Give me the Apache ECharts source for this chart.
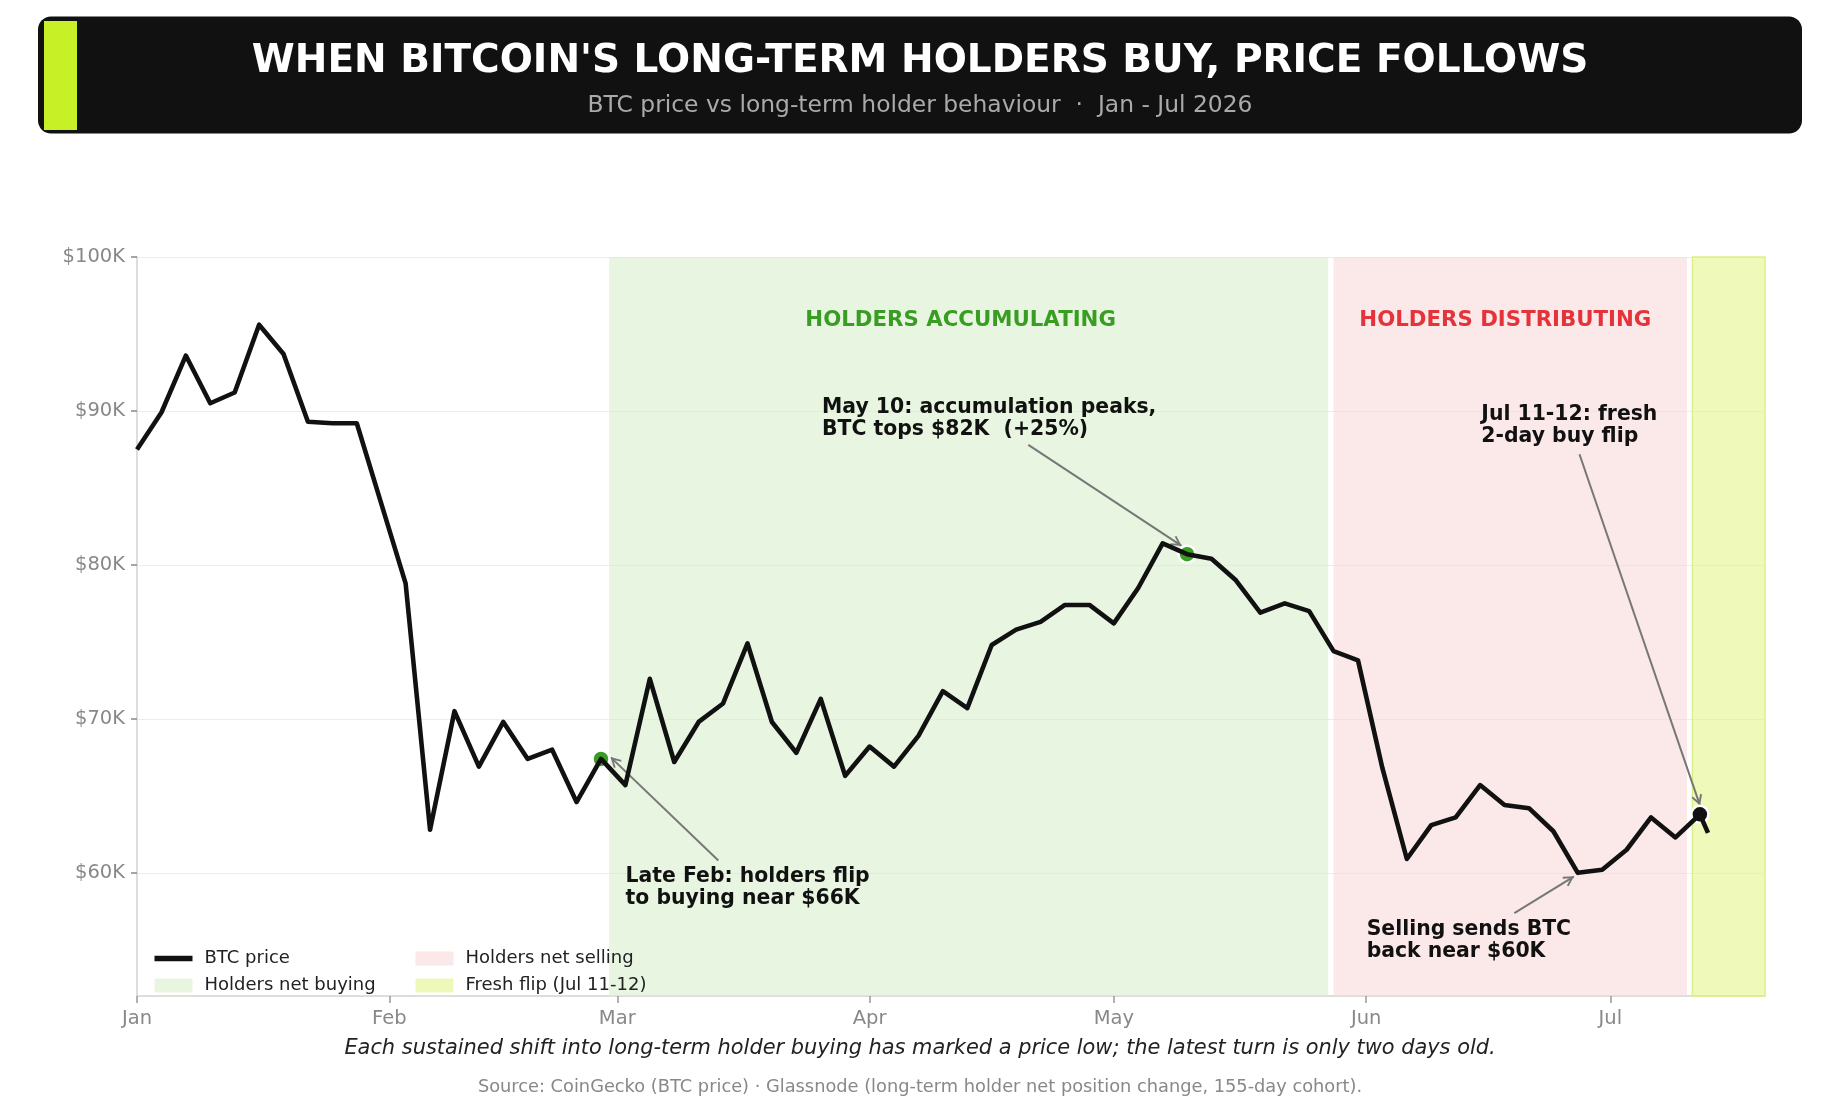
<!DOCTYPE html>
<html><head><meta charset="utf-8">
<script src="https://cdn.jsdelivr.net/npm/echarts@6/dist/echarts.min.js"></script>
<style>html,body{margin:0;padding:0;background:#fff}#c{width:1840px;height:1120px}</style>
</head><body><div id="c"></div>
<script>
// ---------- data ----------
const dates = [
 '2026-01-01','2026-01-04','2026-01-07','2026-01-10','2026-01-13','2026-01-16','2026-01-19','2026-01-22','2026-01-25','2026-01-28',
 '2026-01-31','2026-02-03','2026-02-06','2026-02-09','2026-02-12','2026-02-15','2026-02-18','2026-02-21','2026-02-24','2026-02-27',
 '2026-03-02','2026-03-05','2026-03-08','2026-03-11','2026-03-14','2026-03-17','2026-03-20','2026-03-23','2026-03-26','2026-03-29',
 '2026-04-01','2026-04-04','2026-04-07','2026-04-10','2026-04-13','2026-04-16','2026-04-19','2026-04-22','2026-04-25','2026-04-28',
 '2026-05-01','2026-05-04','2026-05-07','2026-05-10','2026-05-13','2026-05-16','2026-05-19','2026-05-22','2026-05-25','2026-05-28',
 '2026-05-31','2026-06-03','2026-06-06','2026-06-09','2026-06-12','2026-06-15','2026-06-18','2026-06-21','2026-06-24','2026-06-27',
 '2026-06-30','2026-07-03','2026-07-06','2026-07-09','2026-07-12','2026-07-13'
];
const btcPrice = [
 87500, 89900, 93600, 90500, 91200, 95600, 93700, 89300, 89200, 89200,
 84000, 78800, 62800, 70500, 66900, 69800, 67400, 68000, 64600, 67400,
 65700, 72600, 67200, 69800, 71000, 74900, 69800, 67800, 71300, 66300,
 68200, 66900, 68900, 71800, 70700, 74800, 75800, 76300, 77400, 77400,
 76200, 78500, 81400, 80700, 80400, 79000, 76900, 77500, 77000, 74400,
 73800, 66800, 60900, 63100, 63600, 65700, 64400, 64200, 62700, 60000,
 60200, 61500, 63600, 62300, 63800, 62600
];
const monthLabels = ['Jan','Feb','Mar','Apr','May','Jun','Jul','Aug','Sep','Oct','Nov','Dec'];
const priceTicks = [60000, 70000, 80000, 90000, 100000];
const regionNames = ['Holders net buying', 'Holders net selling', 'Fresh flip (Jul 11-12)'];
const regionStarts = ['2026-02-28', '2026-05-28', '2026-07-11 02:00'];
const regionEnds = ['2026-05-27 08:00', '2026-07-10 10:00', '2026-07-20'];
const regionLabels = ['HOLDERS ACCUMULATING', 'HOLDERS DISTRIBUTING', ''];
const highlightDates = ['2026-02-27', '2026-05-10', '2026-07-12'];
const noteTexts = [
 'Late Feb: holders flip\nto buying near $66K',
 'May 10: accumulation peaks,\nBTC tops $82K  (+25%)',
 'Jul 11-12: fresh\n2-day buy flip',
 'Selling sends BTC\nback near $60K'
];
const noteAt = [['2026-03-02 02:00', 60450], ['2026-03-26 05:00', 90880], ['2026-06-15 05:00', 90420], ['2026-06-01 03:00', 56990]];
const arrowFrom = [['2026-03-13 10:00', 60800], ['2026-04-20 12:00', 87800], ['2026-06-27 05:00', 87190], ['2026-06-19 05:00', 57380]];
const arrowTo = [['2026-02-28 05:00', 67500], ['2026-05-09 07:00', 81250], ['2026-07-12', 64400], ['2026-06-26 12:00', 59760]];

// ---------- styles ----------
const FONT = 'DejaVu Sans';
const DAY = 86400000;
const regionFill = ['rgba(217,238,205,0.6)', 'rgba(248,217,217,0.6)', 'rgba(227,245,140,0.6)'];
const regionSwatch = ['#e8f5e1', '#fbe8e8', '#eef9b9'];
const regionBorder = [null, null, '#dcef86'];
const regionLabelColor = ['#3a9d23', '#e5333b', '#000'];
const regionLabelOffset = [[-8, 0], [-5, 0], [0, 0]];
const highlightColor = ['#3a9d23', '#3a9d23', '#111111'];
const chevron = 'path://M0,9 L5,0 L10,9 L8.6,10 L5,3.6 L1.4,10 Z';

const chart = echarts.init(document.getElementById('c'), null, {renderer: 'canvas'});

const regionSeries = regionNames.map((nm, i) => ({
  name: nm, type: 'line', data: [], silent: true,
  itemStyle: {color: regionSwatch[i]}, lineStyle: {color: regionSwatch[i]},
  markArea: {
    silent: true,
    itemStyle: {color: regionFill[i], borderColor: regionBorder[i] || 'transparent', borderWidth: regionBorder[i] ? 1.5 : 0},
    label: {show: !!regionLabels[i], position: 'insideTop', distance: 53, offset: regionLabelOffset[i],
      color: regionLabelColor[i], fontSize: 21.3, fontWeight: 'bold', fontFamily: FONT},
    data: [[{name: regionLabels[i], xAxis: regionStarts[i]}, {xAxis: regionEnds[i]}]]
  }
}));

const legendText = {color: '#222', fontSize: 18, fontFamily: FONT, padding: [0, 0, 0, 7]};

chart.setOption({
  animation: false,
  backgroundColor: '#ffffff',
  textStyle: {fontFamily: FONT},
  grid: {left: 137, right: 75, top: 257, bottom: 124, containLabel: false, outerBoundsMode: 'none'},
  xAxis: {
    type: 'time',
    min: '2026-01-01', max: '2026-07-20',
    splitNumber: 7, minInterval: 28 * DAY, maxInterval: 31 * DAY,
    axisLine: {show: true, lineStyle: {color: '#dddddd', width: 2}},
    axisTick: {show: true, length: 7, lineStyle: {color: '#999', width: 1.5}},
    axisLabel: {color: '#888', fontSize: 19.5, fontFamily: FONT, margin: 13, hideOverlap: false,
      showMinLabel: true, showMaxLabel: false, fontWeight: 'normal',
      formatter: (v) => monthLabels[new Date(v).getMonth()]},
    minorTick: {show: false},
    splitLine: {show: false}
  },
  yAxis: {
    type: 'value', min: 52000, max: 100000,
    axisLine: {show: true, lineStyle: {color: '#dddddd', width: 2}},
    axisTick: {show: true, customValues: priceTicks, length: 6, lineStyle: {color: '#888', width: 1.5}},
    axisLabel: {customValues: priceTicks, color: '#888', fontSize: 19.5, fontFamily: FONT, margin: 12,
      formatter: (v) => '$' + Math.round(v / 1000) + 'K'},
    splitLine: {show: true, lineStyle: {color: '#ececec', width: 1}}
  },
  legend: [
    {orient: 'vertical', left: 149.5, top: 944.5, itemWidth: 38, itemHeight: 14, itemGap: 9,
      textStyle: legendText, selectedMode: false,
      data: [{name: 'BTC price', icon: 'path://M0,0H40V6H0Z', itemStyle: {color: '#111'}},
             {name: regionNames[0], icon: 'rect', itemStyle: {color: regionSwatch[0]}}]},
    {orient: 'vertical', left: 410.5, top: 944.5, itemWidth: 38, itemHeight: 14, itemGap: 9,
      textStyle: legendText, selectedMode: false,
      data: [{name: regionNames[1], icon: 'rect', itemStyle: {color: regionSwatch[1]}},
             {name: regionNames[2], icon: 'rect', itemStyle: {color: regionSwatch[2]}}]}
  ],
  series: [
    ...regionSeries,
    {
      name: 'BTC price', type: 'line', symbol: 'none', z: 5,
      data: dates.map((d, i) => [d, btcPrice[i]]),
      lineStyle: {color: '#111', width: 4.6, join: 'round', cap: 'butt'},
      itemStyle: {color: '#111'},
      markLine: {
        silent: true, animation: false,
        symbol: ['none', chevron], symbolSize: [11, 11], symbolOffset: [0, [0, 5]],
        lineStyle: {color: '#777', width: 2, type: 'solid'},
        label: {show: false},
        data: arrowFrom.map((f, i) => [{coord: f}, {coord: arrowTo[i]}])
      },
      markPoint: {
        silent: true, animation: false,
        data: [
          ...highlightDates.map((d, i) => ({
            coord: [d, btcPrice[dates.indexOf(d)]], symbol: 'circle', symbolSize: 17,
            itemStyle: {color: highlightColor[i], borderColor: '#fff', borderWidth: 2.5},
            label: {show: false}
          })),
          ...noteTexts.map((t, i) => ({
            coord: noteAt[i], symbol: 'circle', symbolSize: 1,
            itemStyle: {color: 'rgba(0,0,0,0)'},
            label: {show: true, position: [0, 0], align: 'left', verticalAlign: 'top',
              formatter: t, color: '#111', fontSize: 20.4, fontWeight: 'bold', fontFamily: FONT, lineHeight: 22}
          }))
        ]
      }
    }
  ],
  graphic: [
    {type: 'rect', shape: {x: 38, y: 16.5, width: 1764, height: 117, r: 13}, style: {fill: '#111111'}, z: 10},
    {type: 'rect', shape: {x: 44, y: 21, width: 33, height: 109}, style: {fill: '#c8f026'}, z: 11},
    {type: 'text', x: 920, y: 61.5, z: 12, style: {text: "WHEN BITCOIN'S LONG-TERM HOLDERS BUY, PRICE FOLLOWS",
      fill: '#ffffff', font: 'bold 39px "DejaVu Sans"', align: 'center', verticalAlign: 'middle'}},
    {type: 'text', x: 920, y: 105.5, z: 12, style: {text: 'BTC price vs long-term holder behaviour  \u00b7  Jan - Jul 2026',
      fill: '#aaaaaa', font: '23.4px "DejaVu Sans"', align: 'center', verticalAlign: 'middle'}},
    {type: 'text', x: 920, y: 1049, z: 12, style: {text: 'Each sustained shift into long-term holder buying has marked a price low; the latest turn is only two days old.',
      fill: '#222222', font: 'italic 20.9px "DejaVu Sans"', align: 'center', verticalAlign: 'middle'}},
    {type: 'text', x: 920, y: 1087, z: 12, style: {text: 'Source: CoinGecko (BTC price) \u00b7 Glassnode (long-term holder net position change, 155-day cohort).',
      fill: '#888888', font: '17.8px "DejaVu Sans"', align: 'center', verticalAlign: 'middle'}}
  ]
});
</script></body></html>
